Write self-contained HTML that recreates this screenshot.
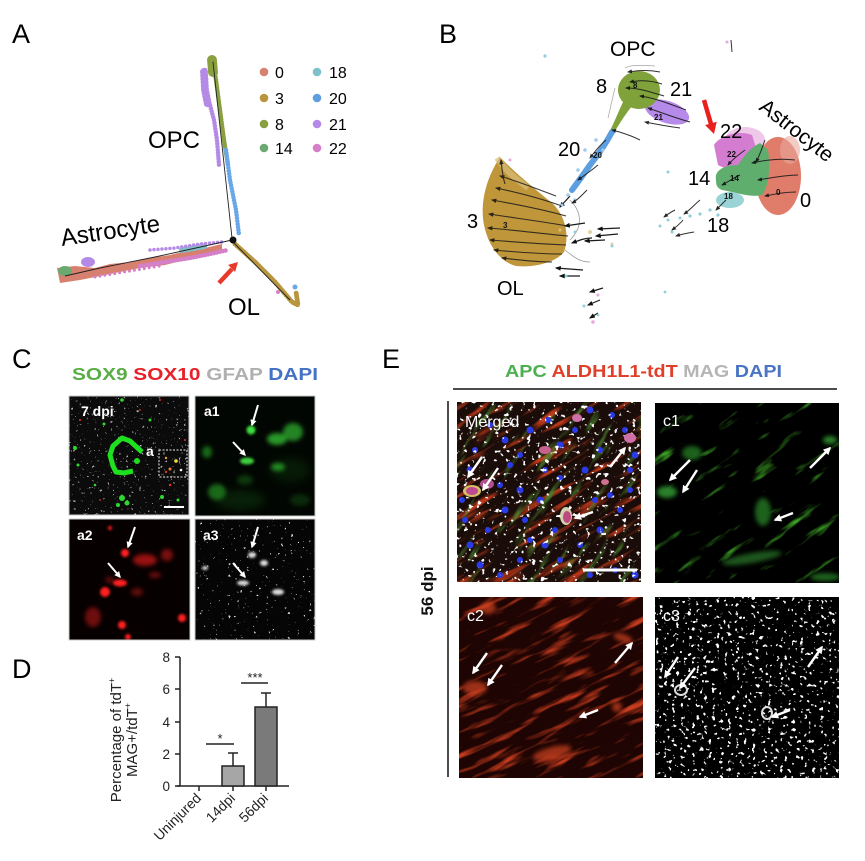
<!DOCTYPE html>
<html><head><meta charset="utf-8"><style>
html,body{margin:0;padding:0;background:#fff}
svg{display:block}
text{font-family:"Liberation Sans",Arial,sans-serif}
filter{color-interpolation-filters:sRGB}
</style></head><body>
<svg width="865" height="861" viewBox="0 0 865 861" xmlns="http://www.w3.org/2000/svg">
<defs>
<marker id="mW" viewBox="0 0 10 10" refX="8" refY="5" markerWidth="3.2" markerHeight="3.2" orient="auto"><path d="M0,0 L10,5 L0,10 z" fill="#fff"/></marker>
<marker id="mB" viewBox="0 0 10 10" refX="8" refY="5" markerWidth="5" markerHeight="5" orient="auto"><path d="M0,1 L10,5 L0,9 z" fill="#111"/></marker>
<filter id="blur1" x="-50%" y="-50%" width="200%" height="200%" color-interpolation-filters="sRGB"><feGaussianBlur stdDeviation="1.2"/></filter>
<filter id="blur2" x="-50%" y="-50%" width="200%" height="200%" color-interpolation-filters="sRGB"><feGaussianBlur stdDeviation="2.2"/></filter>
<filter id="blur4" x="-50%" y="-50%" width="200%" height="200%" color-interpolation-filters="sRGB"><feGaussianBlur stdDeviation="4"/></filter>
<filter id="fGray" x="0" y="0" width="1" height="1" color-interpolation-filters="sRGB"><feTurbulence type="fractalNoise" baseFrequency="0.38" numOctaves="2" seed="4"/><feColorMatrix type="matrix" values="0 0 0 0 0.7  0 0 0 0 0.7  0 0 0 0 0.7  0 0 0 14 -9.7"/></filter>
<filter id="fW1" x="0" y="0" width="1" height="1" color-interpolation-filters="sRGB"><feTurbulence type="fractalNoise" baseFrequency="0.32" numOctaves="2" seed="9"/><feColorMatrix type="matrix" values="0 0 0 0 0.85  0 0 0 0 0.85  0 0 0 0 0.85  0 0 0 16 -11.6"/></filter>
<filter id="fW2" x="0" y="0" width="1" height="1" color-interpolation-filters="sRGB"><feTurbulence type="fractalNoise" baseFrequency="0.22" numOctaves="2" seed="17"/><feColorMatrix type="matrix" values="0 0 0 0 1  0 0 0 0 1  0 0 0 0 1  0 0 0 14 -9.1"/></filter>
<filter id="fW3" x="0" y="0" width="1" height="1" color-interpolation-filters="sRGB"><feTurbulence type="fractalNoise" baseFrequency="0.25" numOctaves="2" seed="23"/><feColorMatrix type="matrix" values="0 0 0 0 1  0 0 0 0 1  0 0 0 0 1  0 0 0 14 -9.0"/></filter>
<filter id="fRed" x="0" y="0" width="1" height="1" color-interpolation-filters="sRGB"><feTurbulence type="fractalNoise" baseFrequency="0.02 0.14" numOctaves="3" seed="5"/><feColorMatrix type="matrix" values="0 0 0 0 0.75  0 0 0 0 0.22  0 0 0 0 0.1  0 0 0 4 -2.2"/></filter>
<filter id="fRed2" x="0" y="0" width="1" height="1" color-interpolation-filters="sRGB"><feTurbulence type="fractalNoise" baseFrequency="0.02 0.13" numOctaves="3" seed="31"/><feColorMatrix type="matrix" values="0 0 0 0 0.8  0 0 0 0 0.24  0 0 0 0 0.12  0 0 0 3.5 -1.9"/></filter>
<filter id="fGreen" x="0" y="0" width="1" height="1" color-interpolation-filters="sRGB"><feTurbulence type="fractalNoise" baseFrequency="0.025 0.1" numOctaves="3" seed="12"/><feColorMatrix type="matrix" values="0 0 0 0 0.25  0 0 0 0 0.68  0 0 0 0 0.15  0 0 0 4 -2.6"/></filter>
<filter id="fGreen2" x="0" y="0" width="1" height="1" color-interpolation-filters="sRGB"><feTurbulence type="fractalNoise" baseFrequency="0.025 0.12" numOctaves="3" seed="44"/><feColorMatrix type="matrix" values="0 0 0 0 0.3  0 0 0 0 0.55  0 0 0 0 0.2  0 0 0 4 -2.4"/></filter>
<clipPath id="cTL"><rect x="69" y="396" width="120" height="119"/></clipPath>
<clipPath id="cTR"><rect x="195" y="396" width="120" height="120"/></clipPath>
<clipPath id="cBL"><rect x="69" y="519" width="121" height="121"/></clipPath>
<clipPath id="cBR"><rect x="195" y="519" width="120" height="121"/></clipPath>
<clipPath id="eM"><rect x="457" y="402" width="184" height="180"/></clipPath>
<clipPath id="e1"><rect x="655" y="403" width="184" height="180"/></clipPath>
<clipPath id="e2"><rect x="459" y="597" width="184" height="181"/></clipPath>
<clipPath id="e3"><rect x="655" y="597" width="184" height="181"/></clipPath>
</defs>
<rect width="865" height="861" fill="#fff"/>

<text x="12" y="43" font-size="27">A</text>
<text x="439" y="43" font-size="27">B</text>
<text x="12" y="368" font-size="27">C</text>
<text x="12" y="678" font-size="27">D</text>
<text x="382" y="368" font-size="27">E</text>

<!-- ============ PANEL A ============ -->
<g stroke-linecap="round" fill="none">
  <path d="M204,72 L205,90 L208,105" stroke="#b48ae6" stroke-width="8" stroke-dasharray="0 3.5"/>
  <path d="M205,70 L206,90 L210,105 L214,120 L217,140 L219,165" stroke="#b48ae6" stroke-width="4.5" stroke-dasharray="0 3"/>
  <path d="M212,60 L213,72" stroke="#8aa040" stroke-width="10" stroke-dasharray="0 2"/>
  <path d="M213,60 L216,80 L220,110 L224,140 L228,165" stroke="#8aa040" stroke-width="4.5" stroke-dasharray="0 2.5"/>
  <path d="M226,150 L230,180 L236,210 L239,235" stroke="#6aa7e8" stroke-width="4.5" stroke-dasharray="0 3"/>
  <line x1="213" y1="62" x2="232" y2="238" stroke="#222" stroke-width="0.9"/>
</g>
<g>
  <path d="M57,268 L75,266 L95,268 L110,264 L130,262 L150,258 L170,255 L190,250 L205,248 L222,244 L222,252 L205,256 L185,260 L165,265 L140,268 L120,272 L100,276 L80,280 L60,283 Z" fill="#d8806f"/>
  <g stroke-linecap="round" fill="none">
  <path d="M140,266 L165,262 L190,258 L210,254 L228,250" stroke="#d57fc8" stroke-width="4.5" stroke-dasharray="0 3"/>
  <path d="M182,250 L205,246" stroke="#7fbfc8" stroke-width="6" stroke-dasharray="0 2.5"/>
  <path d="M150,250 L175,248 L200,244 L222,242" stroke="#b48ae6" stroke-width="3.5" stroke-dasharray="0 4"/>
  <path d="M95,277 L130,271 L160,266" stroke="#d57fc8" stroke-width="3" stroke-dasharray="0 5"/>
  </g>
  <ellipse cx="88" cy="262" rx="7" ry="5" fill="#b48ae6"/>
  <ellipse cx="65" cy="271" rx="7" ry="5" fill="#6aaa70"/>
  <path d="M232,240 L205,246 L155,257 L100,268 L65,276" stroke="#222" stroke-width="0.9" fill="none"/>
  <path d="M235,244 L255,262 L275,282 L292,302 L298,305 L296,292" stroke="#b8963e" stroke-width="5" stroke-dasharray="0 2.5" stroke-linecap="round" fill="none" stroke-linejoin="round"/>
  <circle cx="295" cy="287" r="2.5" fill="#6aa7e8"/>
  <circle cx="278" cy="292" r="2" fill="#d57fc8"/>
  <line x1="233" y1="242" x2="290" y2="300" stroke="#222" stroke-width="0.9"/>
  <circle cx="233" cy="240" r="3.5" fill="#111"/>
  <line x1="219" y1="283" x2="232" y2="269" stroke="#e8392b" stroke-width="4.5"/>
  <polygon points="238,262 235.1,271.9 228.1,264.9" fill="#e8392b"/>
  <text x="148" y="148" font-size="24">OPC</text>
  <text x="62" y="246" font-size="24" transform="rotate(-8.5 62 246)">Astrocyte</text>
  <text x="228" y="315" font-size="24">OL</text>
  <g font-size="16">
    <circle cx="264" cy="72" r="4.3" fill="#d8806f"/><text x="275" y="78">0</text>
    <circle cx="264" cy="98" r="4.3" fill="#b8963e"/><text x="275" y="104">3</text>
    <circle cx="264" cy="124" r="4.3" fill="#8aa040"/><text x="275" y="130">8</text>
    <circle cx="264" cy="148" r="4.3" fill="#6aaa70"/><text x="275" y="154">14</text>
    <circle cx="317" cy="72" r="4.3" fill="#7fbfc8"/><text x="329" y="78">18</text>
    <circle cx="317" cy="98" r="4.3" fill="#5f9fe0"/><text x="329" y="104">20</text>
    <circle cx="317" cy="124" r="4.3" fill="#b48ae6"/><text x="329" y="130">21</text>
    <circle cx="317" cy="148" r="4.3" fill="#d57fc8"/><text x="329" y="154">22</text>
  </g>
</g>

<!-- ============ PANEL B ============ -->
<g>
  <path d="M500,157 C510,168 530,185 552,203 C565,215 570,235 564,252 C556,262 535,268 516,266 C500,262 488,245 484,225 C480,205 485,180 500,157 Z" fill="#c0963a"/>
  <path d="M497,158 C505,170 515,178 528,188" stroke="#d8bf7a" stroke-width="6" fill="none" opacity="0.7"/>
  <g stroke="#1a1a1a" stroke-width="1.1" fill="none" marker-end="url(#mB)" opacity="0.85">
    <path d="M556,196 C540,190 520,182 500,176"/>
    <path d="M562,206 C545,200 525,194 496,188"/>
    <path d="M566,216 C545,210 520,205 492,200"/>
    <path d="M568,226 C545,222 515,218 489,214"/>
    <path d="M568,236 C545,234 515,230 488,228"/>
    <path d="M566,245 C545,244 515,242 490,240"/>
    <path d="M562,254 C540,254 515,252 494,250"/>
    <path d="M552,262 C535,262 520,260 502,258"/>
    <path d="M505,184 C503,178 502,170 501,160"/>
  </g>
  <g stroke="#555" stroke-width="0.8" fill="none" opacity="0.6">
    <path d="M570,200 C580,210 585,225 570,240"/>
    <path d="M565,250 C575,258 580,262 590,262"/>
  </g>
  <g stroke="#1a1a1a" stroke-width="1.2" fill="none" marker-end="url(#mB)">
    <path d="M620,228 L598,229"/><path d="M618,234 L596,236"/><path d="M605,240 L585,241"/>
    <path d="M585,223 L565,226"/><path d="M570,196 L560,207"/>
    <path d="M583,270 L556,268"/><path d="M580,276 L560,276"/>
    <path d="M603,288 L590,292"/><path d="M600,300 L588,305"/><path d="M598,313 L590,318"/>
    <path d="M592,238 C585,238 580,240 572,243"/>
  </g>
  <g fill="#e2c98a" opacity="0.8"><circle cx="590" cy="232" r="2"/><circle cx="612" cy="244" r="1.5"/><circle cx="560" cy="230" r="1.5"/></g>
  <g fill="#8fd0d8"><circle cx="575" cy="232" r="1.5"/><circle cx="612" cy="246" r="1.5"/><circle cx="566" cy="276" r="1.5"/><circle cx="584" cy="306" r="1.5"/><circle cx="545" cy="56" r="1.6"/><circle cx="665" cy="292" r="1.4"/><circle cx="598" cy="315" r="1.4"/></g>
  <g fill="#e8a8e0"><circle cx="593" cy="322" r="1.8"/><circle cx="598" cy="295" r="1.5"/><circle cx="510" cy="160" r="1.5"/></g>
  <ellipse cx="667" cy="112" rx="23" ry="11" fill="#b68ae8" transform="rotate(18 667 112)"/>
  <ellipse cx="639" cy="90" rx="21" ry="19" fill="#7fa33a"/>
  <path d="M624,100 C618,112 614,124 608,134 L612,136 C618,126 624,116 632,106 Z" fill="#7fa33a"/>
  <path d="M612,132 C605,145 598,155 590,165 C583,175 578,182 572,190" stroke="#5c9fe0" stroke-width="6" stroke-linecap="round" fill="none"/>
  <g fill="#9fcbee"><circle cx="596" cy="140" r="1.8"/><circle cx="585" cy="150" r="1.8"/><circle cx="603" cy="150" r="1.6"/><circle cx="578" cy="170" r="1.8"/><circle cx="568" cy="195" r="1.8"/><circle cx="575" cy="200" r="1.6"/><circle cx="562" cy="205" r="1.5"/></g>
  <g stroke="#1a1a1a" stroke-width="1" fill="none" marker-end="url(#mB)" opacity="0.9">
    <path d="M660,72 C650,70 640,70 628,72"/>
    <path d="M662,84 C650,80 640,80 630,82"/>
    <path d="M664,96 C650,92 640,88 626,88"/>
    <path d="M686,110 C670,104 655,98 640,96"/>
    <path d="M690,122 C675,118 660,112 648,108"/>
    <path d="M680,128 C665,126 655,124 645,122"/>
    <path d="M640,140 C630,135 620,132 612,130"/>
    <path d="M606,140 C600,145 596,150 590,158"/>
    <path d="M598,165 C592,170 585,175 578,180"/>
    <path d="M587,190 C582,195 578,200 572,203"/>
  </g>
  <g stroke="#666" stroke-width="0.7" fill="none" opacity="0.6">
    <path d="M625,68 C630,65 640,65 655,66"/><path d="M615,88 C612,100 610,110 608,118"/>
  </g>
  <ellipse cx="745" cy="140" rx="20" ry="13" fill="#e8b0e0" opacity="0.7"/>
  <ellipse cx="778" cy="176" rx="23" ry="39" fill="#e07c6a"/>
  <ellipse cx="790" cy="150" rx="10" ry="14" fill="#eaa89c" opacity="0.6"/>
  <path d="M714,145 C720,135 740,130 752,135 L760,160 C750,170 730,172 718,165 Z" fill="#d47cd0"/>
  <path d="M716,180 C714,170 725,165 738,165 C745,155 750,148 760,143 L768,150 C770,165 770,185 762,195 C750,198 735,192 722,190 C717,188 716,185 716,180 Z" fill="#5fae6e"/>
  <ellipse cx="730" cy="200" rx="14" ry="8" fill="#8accd0" opacity="0.85"/>
  <g fill="#8fd0d8"><circle cx="710" cy="210" r="1.6"/><circle cx="700" cy="214" r="1.6"/><circle cx="690" cy="216" r="1.6"/><circle cx="680" cy="218" r="1.5"/><circle cx="668" cy="220" r="1.5"/><circle cx="660" cy="226" r="1.5"/><circle cx="672" cy="232" r="1.5"/><circle cx="668" cy="172" r="1.5"/><circle cx="718" cy="215" r="1.6"/></g>
  <g stroke="#1a1a1a" stroke-width="1" fill="none" marker-end="url(#mB)" opacity="0.9">
    <path d="M795,160 C780,158 765,160 752,163"/>
    <path d="M798,175 C785,175 770,178 758,180"/>
    <path d="M796,192 C785,192 775,194 765,196"/>
    <path d="M765,140 C762,148 760,155 756,162"/>
    <path d="M745,150 C738,155 732,160 728,165"/>
    <path d="M740,175 C733,178 728,182 722,185"/>
    <path d="M726,200 C722,204 720,206 716,210"/>
    <path d="M700,200 C694,205 690,210 684,214"/>
    <path d="M683,220 C680,224 676,227 672,230"/>
    <path d="M694,232 C688,233 682,234 676,236"/>
    <path d="M675,210 C671,212 668,214 664,217"/>
  </g>
  <path d="M731,40 L732,52" stroke="#333" stroke-width="1"/>
  <circle cx="727" cy="42" r="1.5" fill="#e8a8e0"/>
  <line x1="704" y1="100" x2="711" y2="124" stroke="#e8201e" stroke-width="4.5"/>
  <polygon points="714,134 716.7,121.7 705.1,125.1" fill="#e8201e"/>
  <g font-size="8" font-weight="bold" fill="#111">
    <text x="633" y="88">8</text><text x="654" y="120">21</text><text x="593" y="158">20</text>
    <text x="503" y="228">3</text><text x="727" y="157">22</text><text x="730" y="181">14</text>
    <text x="724" y="199">18</text><text x="776" y="195">0</text>
  </g>
  <g font-size="20">
    <text x="610" y="56" font-size="21">OPC</text>
    <text x="596" y="93">8</text>
    <text x="670" y="96">21</text>
    <text x="720" y="138">22</text>
    <text x="758" y="109" font-size="21" transform="rotate(38 758 109)">Astrocyte</text>
    <text x="688" y="185">14</text>
    <text x="800" y="207">0</text>
    <text x="707" y="232">18</text>
    <text x="558" y="156">20</text>
    <text x="467" y="228">3</text>
    <text x="497" y="295">OL</text>
  </g>
</g>

<!-- ============ PANEL C ============ -->
<text x="72" y="380" font-size="17.5" font-weight="bold" textLength="246" lengthAdjust="spacingAndGlyphs"><tspan fill="#5aad47">SOX9 </tspan><tspan fill="#e8202a">SOX10 </tspan><tspan fill="#b0b0b0">GFAP </tspan><tspan fill="#4472c4">DAPI</tspan></text>

<g clip-path="url(#cTL)">
  <rect x="69" y="396" width="120" height="119" fill="#0b0b0b"/>
  <rect x="69" y="396" width="120" height="119" filter="url(#fGray)"/>
  <path d="M142,452 L130,441 L122,438 L113,446 L110,455 L113,466 L116,472 L124,473 L133,471" stroke="#1fe01f" stroke-width="5" fill="none" stroke-linejoin="round"/>
  <circle cx="137" cy="461" r="3" fill="#1fe01f"/>
  <g fill="#2ed82e"><circle cx="75" cy="448" r="2"/><circle cx="122" cy="498" r="3"/><circle cx="127" cy="503" r="2.5"/><circle cx="118" cy="505" r="2"/><circle cx="162" cy="497" r="2"/><circle cx="122" cy="400" r="1.8"/><circle cx="104" cy="424" r="1.5"/><circle cx="150" cy="420" r="1.5"/><circle cx="78" cy="465" r="1.5"/><circle cx="178" cy="500" r="1.5"/><circle cx="95" cy="485" r="1.3"/></g>
  <g fill="#e83030"><circle cx="80" cy="420" r="1"/><circle cx="160" cy="400" r="1"/><circle cx="185" cy="440" r="1"/><circle cx="140" cy="410" r="0.9"/><circle cx="100" cy="500" r="0.9"/><circle cx="170" cy="485" r="1.2"/><circle cx="166" cy="472" r="1.2"/></g>
  <rect x="159" y="450" width="28" height="27" fill="none" stroke="#eee" stroke-width="1" stroke-dasharray="2 1.5"/>
  <circle cx="176" cy="461" r="1.8" fill="#f0e040"/><circle cx="170" cy="469" r="1.5" fill="#f08030"/><circle cx="181" cy="470" r="1.3" fill="#fff"/><circle cx="166" cy="458" r="1.2" fill="#f0a040"/>
  <line x1="164" y1="507" x2="184" y2="507" stroke="#fff" stroke-width="2"/>
  <text x="81" y="416" font-size="14" font-weight="bold" fill="#fff">7 dpi</text>
  <text x="146" y="456" font-size="14" font-weight="bold" fill="#fff">a</text>
</g>
<rect x="69" y="396" width="120" height="119" fill="none" stroke="#c8c8c8" stroke-width="1"/>

<g clip-path="url(#cTR)">
  <rect x="195" y="396" width="120" height="120" fill="#020602"/>
  <g filter="url(#blur4)" opacity="0.6">
    <ellipse cx="240" cy="500" rx="25" ry="10" fill="#0c300c"/>
    <ellipse cx="290" cy="470" rx="20" ry="12" fill="#0a280a"/>
  </g>
  <g filter="url(#blur2)" opacity="0.85">
    <ellipse cx="293" cy="432" rx="10" ry="9" fill="#2a9a2a"/>
    <ellipse cx="277" cy="439" rx="10" ry="6" fill="#30b030"/>
    <ellipse cx="278" cy="467" rx="7" ry="4" fill="#28a028"/>
    <ellipse cx="207" cy="452" rx="5" ry="6" fill="#1c7a1c"/>
    <ellipse cx="217" cy="492" rx="9" ry="8" fill="#1e7a1e"/>
    <ellipse cx="245" cy="480" rx="8" ry="5" fill="#0f400f"/>
    <ellipse cx="300" cy="500" rx="10" ry="6" fill="#0c300c"/>
  </g>
  <g filter="url(#blur1)">
    <circle cx="251" cy="430" r="4.5" fill="#3ee03e"/>
    <ellipse cx="247" cy="461" rx="7" ry="3.5" fill="#3ed03e"/>
  </g>
  <line x1="258" y1="405" x2="252" y2="425" stroke="#fff" stroke-width="2" marker-end="url(#mW)"/>
  <line x1="233" y1="442" x2="245" y2="455" stroke="#fff" stroke-width="2" marker-end="url(#mW)"/>
  <text x="204" y="416" font-size="14" font-weight="bold" fill="#fff">a1</text>
</g>
<rect x="195" y="396" width="120" height="120" fill="none" stroke="#c8c8c8" stroke-width="1"/>

<g clip-path="url(#cBL)">
  <rect x="69" y="519" width="121" height="121" fill="#070000"/>
  <g filter="url(#blur2)" opacity="0.85">
    <ellipse cx="145" cy="560" rx="12" ry="6" fill="#b01515"/>
    <circle cx="167" cy="555" r="6" fill="#901212"/>
    <ellipse cx="93" cy="617" rx="8" ry="10" fill="#801010"/>
    <ellipse cx="137" cy="592" rx="6" ry="4" fill="#701010"/>
    <ellipse cx="155" cy="575" rx="6" ry="3" fill="#801010"/>
    <ellipse cx="110" cy="580" rx="5" ry="3" fill="#701010"/>
  </g>
  <g filter="url(#blur1)" fill="#ff2020">
    <circle cx="125" cy="553" r="4"/>
    <ellipse cx="120" cy="583" rx="7" ry="3.5"/>
    <circle cx="105" cy="592" r="5"/>
    <circle cx="122" cy="625" r="4"/>
    <circle cx="128" cy="637" r="3"/>
    <circle cx="182" cy="618" r="4"/>
    <circle cx="110" cy="528" r="2"/>
  </g>
  <line x1="135" y1="527" x2="128" y2="547" stroke="#fff" stroke-width="2" marker-end="url(#mW)"/>
  <line x1="108" y1="563" x2="120" y2="577" stroke="#fff" stroke-width="2" marker-end="url(#mW)"/>
  <text x="77" y="540" font-size="14" font-weight="bold" fill="#fff">a2</text>
</g>
<rect x="69" y="519" width="121" height="121" fill="none" stroke="#c8c8c8" stroke-width="1"/>

<g clip-path="url(#cBR)">
  <rect x="195" y="519" width="120" height="121" fill="#050505"/>
  <rect x="195" y="519" width="120" height="121" filter="url(#fW1)"/>
  <g filter="url(#blur1)" fill="#ddd">
    <ellipse cx="252" cy="555" rx="4" ry="3"/>
    <ellipse cx="243" cy="583" rx="6" ry="2.5"/>
    <ellipse cx="278" cy="592" rx="6" ry="3"/>
    <ellipse cx="264" cy="563" rx="4" ry="3"/>
    <ellipse cx="205" cy="568" rx="3" ry="2"/>
  </g>
  <line x1="258" y1="527" x2="252" y2="547" stroke="#fff" stroke-width="2" marker-end="url(#mW)"/>
  <line x1="233" y1="563" x2="245" y2="577" stroke="#fff" stroke-width="2" marker-end="url(#mW)"/>
  <text x="203" y="540" font-size="14" font-weight="bold" fill="#fff">a3</text>
</g>
<rect x="195" y="519" width="120" height="121" fill="none" stroke="#c8c8c8" stroke-width="1"/>

<!-- ============ PANEL D ============ -->
<g stroke="#222" stroke-width="1.5" fill="none">
  <line x1="180" y1="657" x2="180" y2="786"/>
  <line x1="177" y1="786" x2="289" y2="786"/>
  <line x1="175" y1="657" x2="180" y2="657"/>
  <line x1="175" y1="689" x2="180" y2="689"/>
  <line x1="175" y1="722" x2="180" y2="722"/>
  <line x1="175" y1="754" x2="180" y2="754"/>
  <line x1="175" y1="786" x2="180" y2="786"/>
  <line x1="199" y1="786" x2="199" y2="791"/>
  <line x1="233" y1="786" x2="233" y2="791"/>
  <line x1="266" y1="786" x2="266" y2="791"/>
</g>
<rect x="222" y="766" width="22" height="20" fill="#a6a6a6" stroke="#222" stroke-width="1.5"/>
<rect x="255" y="707" width="22" height="79" fill="#7a7a7a" stroke="#222" stroke-width="1.5"/>
<g stroke="#222" stroke-width="1.5">
  <line x1="233" y1="766" x2="233" y2="753"/><line x1="228" y1="753" x2="238" y2="753"/>
  <line x1="266" y1="707" x2="266" y2="693"/><line x1="261" y1="693" x2="271" y2="693"/>
  <line x1="206" y1="744" x2="234" y2="744"/>
  <line x1="241" y1="683" x2="268" y2="683"/>
</g>
<text x="220" y="743" font-size="13" text-anchor="middle" fill="#222">*</text>
<text x="255" y="682" font-size="13" text-anchor="middle" fill="#222">***</text>
<g font-size="13.5" fill="#222" text-anchor="end">
  <text x="170" y="662">8</text><text x="170" y="694">6</text><text x="170" y="727">4</text><text x="170" y="759">2</text><text x="170" y="791">0</text>
</g>
<g font-size="14" fill="#222" text-anchor="end">
  <text x="202" y="799" transform="rotate(-45 202 799)">Uninjured</text>
  <text x="236" y="799" transform="rotate(-45 236 799)">14dpi</text>
  <text x="269" y="799" transform="rotate(-45 269 799)">56dpi</text>
</g>
<g font-size="15" fill="#222" text-anchor="middle">
  <text transform="translate(121 740) rotate(-90)" x="0" y="0">Percentage of tdT<tspan font-size="9" dy="-6">+</tspan></text>
  <text transform="translate(137 740) rotate(-90)" x="0" y="0">MAG+/tdT<tspan font-size="9" dy="-6">+</tspan></text>
</g>

<!-- ============ PANEL E ============ -->
<text x="505" y="377" font-size="17.5" font-weight="bold" textLength="277" lengthAdjust="spacingAndGlyphs"><tspan fill="#4caf50">APC </tspan><tspan fill="#e0402a">ALDH1L1-tdT </tspan><tspan fill="#b5b5b5">MAG </tspan><tspan fill="#4a74c4">DAPI</tspan></text>
<line x1="453" y1="389" x2="837" y2="389" stroke="#111" stroke-width="1.5"/>
<line x1="448" y1="401" x2="448" y2="777" stroke="#111" stroke-width="1.5"/>
<text transform="translate(433 591) rotate(-90)" font-size="17" font-weight="bold" text-anchor="middle" fill="#111">56 dpi</text>

<g clip-path="url(#eM)">
  <rect x="457" y="402" width="184" height="180" fill="#1a0c08"/>
  <g transform="rotate(-30 549 492)"><rect x="400" y="340" width="300" height="300" filter="url(#fRed)"/></g>
  <g transform="rotate(-55 549 492)"><rect x="400" y="340" width="300" height="300" filter="url(#fGreen2)" opacity="0.8"/></g>
  <g fill="#2a3ae8">
    <circle cx="470" cy="470" r="3.5"/><circle cx="490" cy="425" r="3"/><circle cx="505" cy="440" r="3.5"/><circle cx="520" cy="455" r="3"/><circle cx="530" cy="430" r="3.5"/><circle cx="548" cy="420" r="3"/><circle cx="560" cy="445" r="3.5"/><circle cx="575" cy="430" r="3"/><circle cx="590" cy="410" r="3.5"/><circle cx="612" cy="415" r="3"/><circle cx="625" cy="430" r="3"/><circle cx="635" cy="455" r="3.5"/><circle cx="600" cy="450" r="3"/><circle cx="585" cy="470" r="3.5"/><circle cx="560" cy="478" r="3"/><circle cx="540" cy="500" r="3.5"/><circle cx="525" cy="520" r="3"/><circle cx="505" cy="510" r="3.5"/><circle cx="488" cy="530" r="3"/><circle cx="470" cy="545" r="3.5"/><circle cx="480" cy="565" r="3.5"/><circle cx="500" cy="575" r="3"/><circle cx="520" cy="560" r="3"/><circle cx="545" cy="545" r="3.5"/><circle cx="560" cy="560" r="3"/><circle cx="580" cy="545" r="3"/><circle cx="600" cy="530" r="3.5"/><circle cx="620" cy="510" r="3"/><circle cx="630" cy="490" r="3"/><circle cx="610" cy="495" r="3"/><circle cx="595" cy="500" r="3"/><circle cx="545" cy="470" r="3"/><circle cx="520" cy="490" r="3.5"/><circle cx="500" cy="485" r="3"/><circle cx="465" cy="520" r="3"/><circle cx="635" cy="575" r="3.5"/><circle cx="615" cy="570" r="3"/><circle cx="590" cy="575" r="3"/><circle cx="555" cy="530" r="3"/><circle cx="530" cy="540" r="3"/><circle cx="475" cy="450" r="3"/><circle cx="630" cy="470" r="3"/><circle cx="462" cy="500" r="3"/><circle cx="510" cy="465" r="3"/>
  </g>
  <rect x="457" y="402" width="184" height="180" filter="url(#fW2)"/>
  <g>
    <ellipse cx="472" cy="491" rx="9" ry="6" fill="#e8d070" opacity="0.9"/><ellipse cx="472" cy="491" rx="6" ry="4" fill="#c04890"/>
    <ellipse cx="487" cy="484" rx="7" ry="5" fill="#b05090"/>
    <ellipse cx="566" cy="516" rx="6" ry="9" fill="#e8e8c0" opacity="0.9"/><ellipse cx="567" cy="517" rx="4" ry="6" fill="#c04880"/>
    <ellipse cx="630" cy="438" rx="6" ry="5" fill="#d070a8"/>
    <ellipse cx="577" cy="418" rx="5" ry="4" fill="#d070a8"/>
    <ellipse cx="545" cy="450" rx="6" ry="4" fill="#c86090"/>
    <ellipse cx="605" cy="482" rx="4" ry="3" fill="#d07090"/>
  </g>
  <line x1="482" y1="457" x2="468" y2="477" stroke="#fff" stroke-width="2.4" marker-end="url(#mW)"/>
  <line x1="498" y1="468" x2="483" y2="490" stroke="#fff" stroke-width="2.4" marker-end="url(#mW)"/>
  <line x1="610" y1="467" x2="625" y2="448" stroke="#fff" stroke-width="2.4" marker-end="url(#mW)"/>
  <line x1="593" y1="512" x2="575" y2="518" stroke="#fff" stroke-width="2.4" marker-end="url(#mW)"/>
  <line x1="583" y1="570" x2="637" y2="570" stroke="#fff" stroke-width="3"/>
  <text x="465" y="427" font-size="16" fill="#fff">Merged</text>
</g>

<g clip-path="url(#e1)">
  <rect x="655" y="403" width="184" height="180" fill="#000"/>
  <g transform="rotate(-35 747 493)"><rect x="600" y="350" width="300" height="300" filter="url(#fGreen)"/></g>
  <g filter="url(#blur2)" fill="#3cb83c" opacity="0.7">
    <ellipse cx="667" cy="492" rx="10" ry="6"/>
    <ellipse cx="692" cy="453" rx="10" ry="7" fill="#2a8a2a"/>
    <ellipse cx="830" cy="440" rx="7" ry="4"/>
    <ellipse cx="763" cy="512" rx="8" ry="14" fill="#2a8a2a"/>
    <ellipse cx="752" cy="558" rx="30" ry="5" fill="#2a7a2a" transform="rotate(-10 752 558)"/>
    <ellipse cx="825" cy="577" rx="15" ry="4" fill="#2a8a2a"/>
  </g>
  <line x1="690" y1="460" x2="670" y2="480" stroke="#fff" stroke-width="2.4" marker-end="url(#mW)"/>
  <line x1="697" y1="470" x2="683" y2="492" stroke="#fff" stroke-width="2.4" marker-end="url(#mW)"/>
  <line x1="810" y1="468" x2="830" y2="448" stroke="#fff" stroke-width="2.4" marker-end="url(#mW)"/>
  <line x1="793" y1="513" x2="775" y2="520" stroke="#fff" stroke-width="2.4" marker-end="url(#mW)"/>
  <text x="663" y="426" font-size="16" fill="#fff">c1</text>
</g>

<g clip-path="url(#e2)">
  <rect x="459" y="597" width="184" height="181" fill="#1e0402"/>
  <g transform="rotate(-25 551 687)"><rect x="400" y="540" width="300" height="300" filter="url(#fRed2)"/></g>
  <g filter="url(#blur2)" fill="#c8401f" opacity="0.75">
    <ellipse cx="475" cy="688" rx="12" ry="7"/>
    <ellipse cx="617" cy="707" rx="5" ry="5"/>
    <ellipse cx="552" cy="753" rx="20" ry="6" transform="rotate(-15 552 753)"/>
    <ellipse cx="623" cy="638" rx="10" ry="4" transform="rotate(20 623 638)"/>
    <ellipse cx="488" cy="608" rx="8" ry="6"/>
  </g>
  <line x1="487" y1="653" x2="473" y2="673" stroke="#fff" stroke-width="2.4" marker-end="url(#mW)"/>
  <line x1="502" y1="665" x2="488" y2="685" stroke="#fff" stroke-width="2.4" marker-end="url(#mW)"/>
  <line x1="615" y1="663" x2="632" y2="643" stroke="#fff" stroke-width="2.4" marker-end="url(#mW)"/>
  <line x1="598" y1="710" x2="580" y2="717" stroke="#fff" stroke-width="2.4" marker-end="url(#mW)"/>
  <text x="467" y="621" font-size="16" fill="#fff">c2</text>
</g>

<g clip-path="url(#e3)">
  <rect x="655" y="597" width="184" height="181" fill="#000"/>
  <rect x="655" y="597" width="184" height="181" filter="url(#fW3)"/>
  <g fill="none" stroke="#ddd" stroke-width="2">
    <ellipse cx="681" cy="690" rx="6" ry="5"/>
    <ellipse cx="767" cy="713" rx="5" ry="6"/>
  </g>
  <line x1="678" y1="657" x2="665" y2="677" stroke="#fff" stroke-width="2.4" marker-end="url(#mW)"/>
  <line x1="695" y1="668" x2="680" y2="688" stroke="#fff" stroke-width="2.4" marker-end="url(#mW)"/>
  <line x1="808" y1="667" x2="822" y2="647" stroke="#fff" stroke-width="2.4" marker-end="url(#mW)"/>
  <line x1="790" y1="710" x2="772" y2="717" stroke="#fff" stroke-width="2.4" marker-end="url(#mW)"/>
  <text x="663" y="621" font-size="16" fill="#fff">c3</text>
</g>
</svg>
</body></html>
